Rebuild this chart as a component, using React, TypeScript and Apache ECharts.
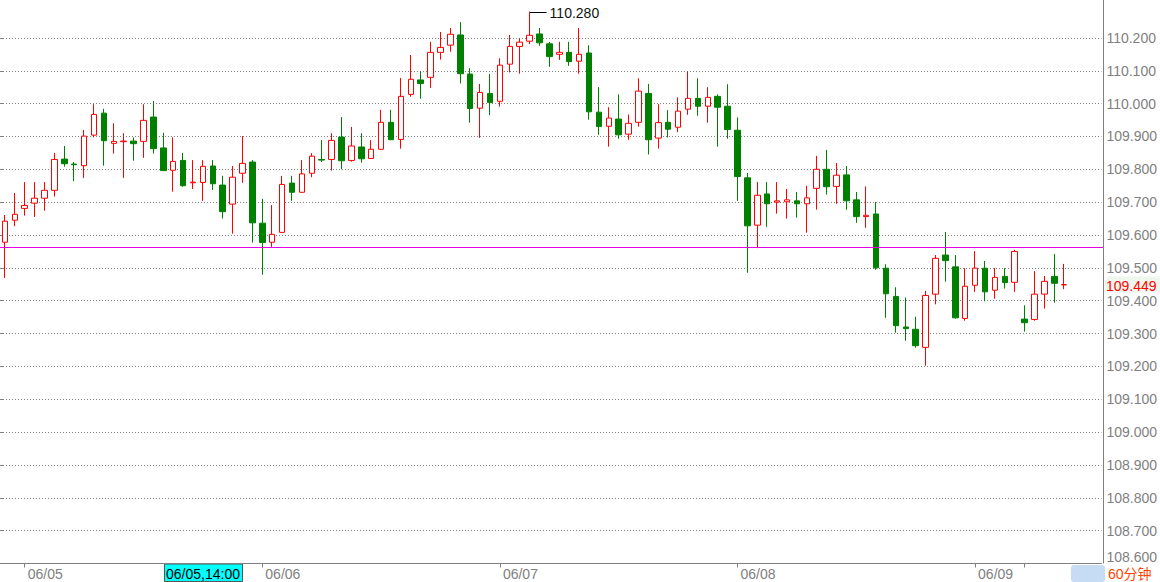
import React, { useEffect, useRef } from "react";
import * as echarts from "echarts";

// hourly candles: [day, first hour, count]
const daySegments: [string, number, number][] = [
  ["06/04", 22, 2],
  ["06/05", 0, 24],
  ["06/06", 0, 24],
  ["06/07", 0, 24],
  ["06/08", 0, 24],
  ["06/09", 0, 5],
  ["06/11", 5, 5],
];
const categories: string[] = [];
for (const [d, start, n] of daySegments) {
  for (let h = start; h < start + n; h++) categories.push(`${d} ${String(h).padStart(2, "0")}:00`);
}

const opens = [
  109.578, 109.645, 109.681, 109.697, 109.712, 109.736, 109.831, 109.816, 109.811, 109.904,
  109.971, 109.879, 109.884, 109.886, 109.885, 109.959, 109.865, 109.797, 109.827, 109.759,
  109.760, 109.810, 109.752, 109.694, 109.788, 109.822, 109.636, 109.578, 109.608, 109.758,
  109.730, 109.788, 109.830, 109.830, 109.898, 109.827, 109.868, 109.833, 109.861, 109.943,
  109.891, 110.028, 110.072, 110.080, 110.156, 110.178, 110.209, 110.090, 109.986, 110.031,
  110.007, 110.120, 110.174, 110.190, 110.212, 110.182, 110.150, 110.156, 110.129, 110.154,
  109.974, 109.931, 109.953, 109.907, 109.943, 110.031, 109.895, 109.943, 109.928, 109.983,
  110.016, 109.992, 110.022, 109.992, 109.919, 109.774, 109.630, 109.725, 109.700, 109.701,
  109.704, 109.695, 109.742, 109.800, 109.748, 109.783, 109.707, 109.656, 109.664, 109.499,
  109.413, 109.320, 109.313, 109.258, 109.420, 109.539, 109.503, 109.346, 109.447, 109.499,
  109.432, 109.474, 109.456, 109.344, 109.343, 109.420, 109.474, 109.448,
];
const closes = [
  109.642, 109.663, 109.690, 109.712, 109.736, 109.830, 109.817, 109.814, 109.901, 109.967,
  109.887, 109.885, 109.886, 109.878, 109.949, 109.863, 109.796, 109.824, 109.750, 109.761,
  109.809, 109.756, 109.671, 109.776, 109.818, 109.637, 109.577, 109.602, 109.754, 109.730,
  109.786, 109.840, 109.828, 109.888, 109.826, 109.871, 109.832, 109.861, 109.943, 109.890,
  110.022, 110.074, 110.061, 110.156, 110.171, 110.211, 110.091, 109.985, 110.034, 110.003,
  110.117, 110.174, 110.187, 110.208, 110.185, 110.143, 110.156, 110.128, 110.150, 109.975,
  109.930, 109.956, 109.905, 109.940, 110.038, 109.890, 109.942, 109.922, 109.977, 110.016,
  109.992, 110.019, 109.989, 109.921, 109.778, 109.628, 109.721, 109.695, 109.704, 109.707,
  109.695, 109.713, 109.800, 109.747, 109.782, 109.704, 109.656, 109.660, 109.500, 109.421,
  109.324, 109.315, 109.263, 109.416, 109.529, 109.522, 109.348, 109.444, 109.499, 109.427,
  109.471, 109.455, 109.550, 109.333, 109.420, 109.459, 109.453, 109.449,
];
const lows = [
  109.469, 109.627, 109.659, 109.655, 109.674, 109.717, 109.808, 109.764, 109.774, 109.897,
  109.811, 109.848, 109.774, 109.826, 109.835, 109.848, 109.795, 109.732, 109.747, 109.740,
  109.704, 109.737, 109.650, 109.604, 109.759, 109.577, 109.479, 109.564, 109.606, 109.704,
  109.729, 109.776, 109.822, 109.796, 109.800, 109.823, 109.820, 109.832, 109.860, 109.889,
  109.863, 110.021, 110.015, 110.048, 110.134, 110.158, 110.061, 109.942, 109.896, 109.965,
  109.991, 110.095, 110.091, 110.181, 110.176, 110.112, 110.133, 110.115, 110.091, 109.951,
  109.905, 109.869, 109.893, 109.890, 109.930, 109.845, 109.863, 109.897, 109.913, 109.966,
  109.963, 109.942, 109.869, 109.893, 109.704, 109.485, 109.560, 109.625, 109.665, 109.650,
  109.653, 109.607, 109.677, 109.723, 109.695, 109.677, 109.637, 109.622, 109.494, 109.348,
  109.303, 109.278, 109.257, 109.202, 109.389, 109.458, 109.345, 109.339, 109.427, 109.398,
  109.406, 109.437, 109.427, 109.306, 109.339, 109.376, 109.394, 109.435,
];
const highs = [
  109.661, 109.728, 109.761, 109.761, 109.761, 109.850, 109.871, 109.822, 109.920, 109.998,
  109.984, 109.940, 109.910, 109.897, 109.998, 110.008, 109.911, 109.897, 109.850, 109.828,
  109.828, 109.828, 109.780, 109.810, 109.901, 109.828, 109.710, 109.691, 109.780, 109.780,
  109.828, 109.849, 109.889, 109.910, 109.959, 109.929, 109.910, 109.889, 109.981, 109.981,
  110.078, 110.148, 110.099, 110.188, 110.218, 110.230, 110.248, 110.108, 110.060, 110.090,
  110.138, 110.209, 110.199, 110.280, 110.230, 110.188, 110.188, 110.188, 110.230, 110.178,
  110.050, 109.989, 110.028, 109.967, 110.077, 110.060, 109.998, 109.980, 110.019, 110.098,
  110.077, 110.050, 110.028, 110.059, 109.958, 109.789, 109.761, 109.761, 109.761, 109.740,
  109.731, 109.749, 109.841, 109.859, 109.819, 109.810, 109.731, 109.748, 109.700, 109.511,
  109.441, 109.410, 109.351, 109.430, 109.539, 109.609, 109.539, 109.499, 109.551, 109.521,
  109.499, 109.499, 109.555, 109.386, 109.490, 109.475, 109.542, 109.512,
];

const labelDays = ["06/05", "06/06", "06/07", "06/08", "06/09"];
const tickDays = ["06/05", "06/06", "06/07", "06/08", "06/09", "06/11"];
const yMin = 108.6;
const yMax = 110.2;
const yStep = 0.1;
const currentPrice = 109.449;
const crossPrice = 109.5635;
const crossTime = "06/05 14:00";
const periodLabel = "60分钟";

const FONT = "'Liberation Sans', Arial, 'Noto Sans CJK SC', sans-serif";
const W = 1160;
const H = 582;
const AXIS_X = 1103;
const PLOT_BOTTOM = 18.5;
const PLOT_TOP = 37.9;

export default function App() {
  const ref = useRef<HTMLDivElement>(null);
  useEffect(() => {
    if (!ref.current) return;
    const chart = echarts.init(ref.current, undefined, { renderer: "svg" });
    const firstIdx = (d: string) => categories.findIndex((c) => c.startsWith(d));
    const labelIdx = labelDays.map(firstIdx);
    const tickIdx = tickDays.map(firstIdx);
    const data = categories.map((_, i) => [opens[i], closes[i], lows[i], highs[i]]);

    chart.setOption({
      animation: false,
      textStyle: { fontFamily: FONT },
      grid: [
        { left: 0, right: W - AXIS_X, top: PLOT_TOP, bottom: PLOT_BOTTOM },
        { left: -1.66, right: 90.9, top: PLOT_TOP, bottom: PLOT_BOTTOM },
      ],
      xAxis: [
        {
          type: "value",
          gridIndex: 0,
          min: 0,
          max: 1,
          axisLine: { show: true, lineStyle: { color: "#808080", width: 1 } },
          axisTick: { show: false },
          axisLabel: { show: false },
          splitLine: { show: false },
        },
        {
          type: "category",
          gridIndex: 1,
          data: categories,
          boundaryGap: true,
          axisLine: { show: false },
          axisTick: {
            show: true,
            alignWithLabel: true,
            length: 4,
            interval: (i: number) => tickIdx.includes(i),
            lineStyle: { color: "#808080" },
          },
          axisLabel: {
            interval: (i: number) => labelIdx.includes(i),
            formatter: (v: string) => v.slice(0, 5),
            color: "#808080",
            fontSize: 14,
            fontFamily: FONT,
            align: "left",
            margin: 3,
            padding: [0, 0, 0, 3],
          },
          splitLine: { show: false },
        },
      ],
      yAxis: [
        {
          type: "value",
          gridIndex: 0,
          position: "right",
          min: yMin,
          max: yMax,
          interval: yStep,
          axisLine: { show: false },
          axisTick: { show: true, length: 4, lineStyle: { color: "#808080" } },
          axisLabel: {
            formatter: (v: number) => v.toFixed(3),
            color: "#7f7f7f",
            fontSize: 14,
            fontFamily: FONT,
            margin: 5,
            verticalAlignMinLabel: "bottom",
          },
          splitLine: { show: true, lineStyle: { color: "#808080", type: [1, 2], width: 1 } },
        },
        {
          type: "value",
          gridIndex: 1,
          min: yMin,
          max: yMax,
          show: false,
          splitLine: { show: false },
        },
      ],
      series: [
        {
          type: "candlestick",
          xAxisIndex: 1,
          yAxisIndex: 1,
          data,
          barWidth: 6,
          clip: false,
          itemStyle: {
            color: "#ffffff",
            color0: "#008000",
            borderColor: "#ff0000",
            borderColor0: "#008000",
            borderWidth: 1,
          },
        },
      ],
    });

    // annotations
    let maxIdx = 0;
    highs.forEach((h, i) => {
      if (h > highs[maxIdx]) maxIdx = i;
    });
    const pHigh = chart.convertToPixel({ gridIndex: 1 }, [maxIdx, highs[maxIdx]]) as number[];
    const yCross = chart.convertToPixel({ yAxisIndex: 0 }, crossPrice) as number;
    const yCur = chart.convertToPixel({ yAxisIndex: 0 }, currentPrice) as number;
    const crossIdx = categories.indexOf(crossTime);
    const xCross = (chart.convertToPixel({ gridIndex: 1 }, [crossIdx, yMin]) as number[])[0];
    const axisY = H - PLOT_BOTTOM;

    chart.setOption({
      graphic: [
        {
          type: "line",
          silent: true,
          shape: { x1: 0, y1: Math.round(yCross) + 0.5, x2: AXIS_X, y2: Math.round(yCross) + 0.5 },
          style: { stroke: "#e600e6", lineWidth: 1 },
          z: 5,
        },
        {
          type: "line",
          silent: true,
          shape: { x1: AXIS_X + 0.5, y1: 0, x2: AXIS_X + 0.5, y2: axisY },
          style: { stroke: "#808080", lineWidth: 1 },
        },
        {
          type: "line",
          silent: true,
          shape: { x1: pHigh[0], y1: Math.round(pHigh[1]) + 0.5, x2: pHigh[0] + 17, y2: Math.round(pHigh[1]) + 0.5 },
          style: { stroke: "#000000", lineWidth: 1 },
        },
        {
          type: "text",
          silent: true,
          x: pHigh[0] + 20,
          y: pHigh[1] + 1,
          style: {
            text: highs[maxIdx].toFixed(3),
            fill: "#111111",
            fontSize: 14,
            fontFamily: FONT,
            verticalAlign: "middle",
          },
        },
        {
          type: "rect",
          silent: true,
          shape: { x: Math.round(xCross) + 1.5, y: axisY + 0.5, width: 78, height: H - axisY - 1 },
          style: { fill: "#00ffff", stroke: "#555555", lineWidth: 1 },
        },
        {
          type: "text",
          silent: true,
          x: Math.round(xCross) + 3,
          y: axisY + (H - axisY) / 2 + 1,
          style: {
            text: crossTime.replace(" ", ","),
            fill: "#000000",
            fontSize: 14,
            fontFamily: FONT,
            verticalAlign: "middle",
          },
        },
        {
          type: "rect",
          silent: true,
          shape: { x: 1071, y: axisY + 1.5, width: 34, height: H - axisY - 1.5, r: 3 },
          style: { fill: "#c6dcf5" },
        },
        {
          type: "text",
          silent: true,
          x: 1108,
          y: axisY + (H - axisY) / 2 + 1,
          style: {
            text: periodLabel,
            fill: "#ff4400",
            fontSize: 14,
            fontFamily: FONT,
            verticalAlign: "middle",
          },
        },
        {
          type: "polygon",
          silent: true,
          shape: {
            points: [
              [AXIS_X + 1, yCur],
              [AXIS_X + 5, yCur - 8],
              [W, yCur - 8],
              [W, yCur + 8],
              [AXIS_X + 5, yCur + 8],
            ],
          },
          style: { fill: "#eef6ee" },
        },
        {
          type: "text",
          silent: true,
          x: 1106,
          y: yCur + 1,
          style: {
            text: currentPrice.toFixed(3),
            fill: "#ff0000",
            fontSize: 14,
            fontFamily: FONT,
            verticalAlign: "middle",
          },
        },
      ],
    });

    return () => chart.dispose();
  }, []);

  return (
    <div
      ref={ref}
      style={{ position: "absolute", left: 0, top: 0, width: W, height: H, background: "#ffffff" }}
    />
  );
}
